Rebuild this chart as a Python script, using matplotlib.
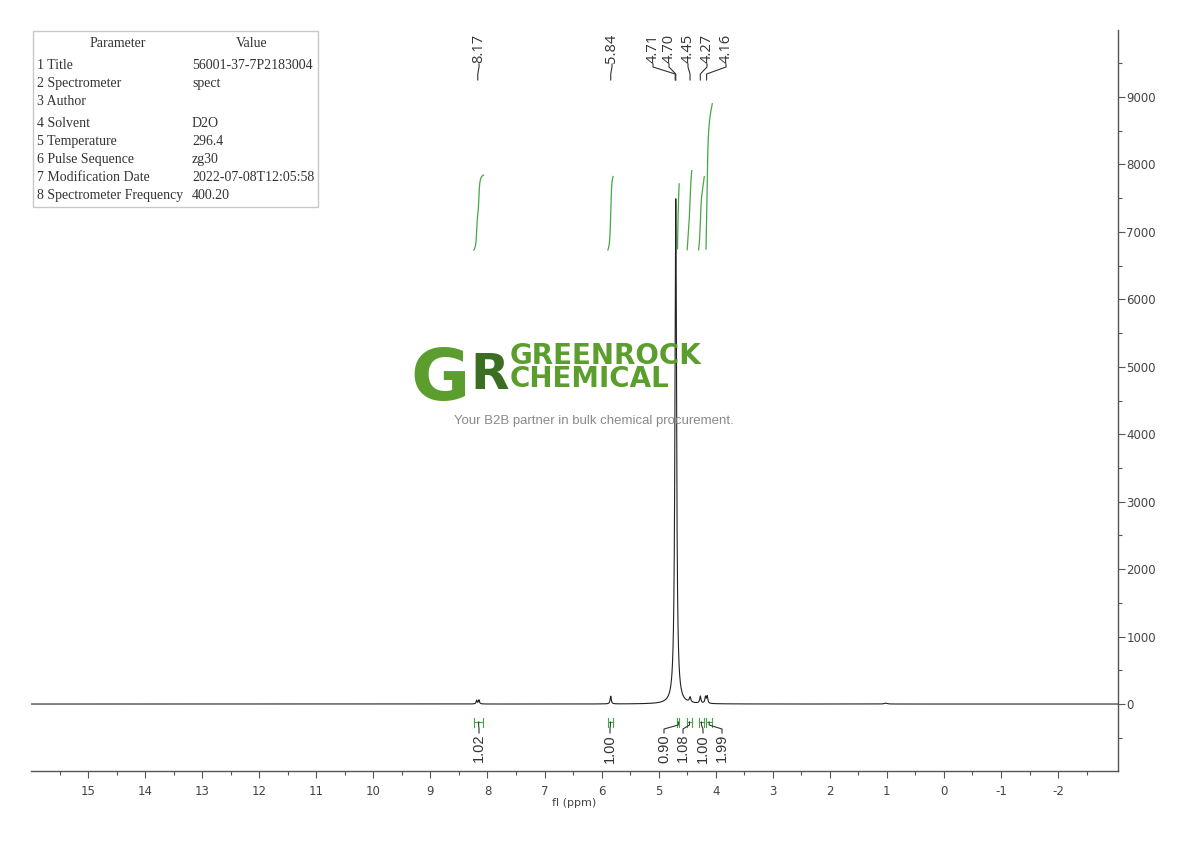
import numpy as np
import matplotlib.pyplot as plt
from matplotlib.patches import Rectangle

plt.rcParams['axes.unicode_minus'] = False

# ---- parameter table ----
param_names = ['1 Title', '2 Spectrometer', '3 Author', '4 Solvent', '5 Temperature',
               '6 Pulse Sequence', '7 Modification Date', '8 Spectrometer Frequency']
param_values = ['56001-37-7P2183004', 'spect', '', 'D2O', '296.4', 'zg30',
                '2022-07-08T12:05:58', '400.20']

# ---- spectrum peaks (ppm, intensity, half width) ----
peak_ppm = [8.19, 8.15, 5.84, 4.71, 4.70, 4.45, 4.27, 4.18, 4.15, 1.02]
peak_height = [55, 60, 115, 300, 7250, 75, 105, 95, 105, 12]
peak_width = [0.011, 0.011, 0.012, 0.02, 0.0167, 0.015, 0.013, 0.012, 0.012, 0.03]

# ---- peak picking labels ----
pick_ppm = [8.17, 5.84, 4.71, 4.70, 4.45, 4.27, 4.16]
pick_label_px = [479, 612, 653, 669, 688, 707, 726]

# ---- integrals ----
int_values = [1.02, 1.00, 0.90, 1.08, 1.00, 1.99]
int_start = [8.24, 5.89, 4.67, 4.50, 4.30, 4.17]
int_end = [8.07, 5.80, 4.64, 4.42, 4.20, 4.06]
int_label_px = [479, 610, 664, 683, 703, 722]

W, H = 1190, 841
fig = plt.figure(figsize=(W / 100, H / 100), dpi=100)
ax = fig.add_axes([31 / W, 1 - 771 / H, (1118 - 31) / W, (771 - 30) / H])

xmin, xmax = 16.0, -3.05
ax.set_xlim(xmin, xmax)
ax.set_ylim(-993, 9994)


def px2ppm(px):
    return xmin - (px - 31) / 1087 * (xmin - xmax)


def yf(py):
    return (771 - py) / 741


def fx(px):
    return px / W


def fy(py):
    return 1 - py / H


# watermark logo (under the spectrum)
green = '#5c9e2e'
dkgreen = '#3b6e22'
fig.text(fx(410), fy(400), 'G', fontsize=52, fontweight='bold', color=green,
         family='DejaVu Sans', zorder=0)
fig.text(fx(470), fy(389), 'R', fontsize=36, fontweight='bold', color=dkgreen,
         family='DejaVu Sans', zorder=0)
fig.text(fx(510), fy(387), 'GREENROCK\nCHEMICAL', fontsize=20, fontweight='bold',
         color=green, family='DejaVu Sans', va='baseline', ha='left',
         linespacing=0.78)
fig.text(fx(594), fy(421), 'Your B2B partner in bulk chemical procurement.',
         fontsize=9.5, color='#8a8a8a', family='Liberation Sans',
         ha='center', va='center')
ax.patch.set_alpha(0)

# spectrum
x = np.linspace(xmin, xmax, 60000)
spec = np.zeros_like(x)
for p, h, w in zip(peak_ppm, peak_height, peak_width):
    spec += h * w ** 2 / (w ** 2 + (x - p) ** 2)
ax.plot(x, spec, color='#222222', lw=0.8, zorder=3)

# integral curves
int_color = '#45a845'
base = (704 - 250) / 0.06744
k = 73.5 / 0.06744
for v, a, b in zip(int_values, int_start, int_end):
    m = (x <= a) & (x >= b)
    c = np.cumsum(spec[m])
    c = c / c[-1]
    ax.plot(x[m], base + v * k * c, color=int_color, lw=0.9, zorder=3)

# integral brackets and labels
tr = ax.get_xaxis_transform()
for v, a, b, lp in zip(int_values, int_start, int_end, int_label_px):
    mid = (a + b) / 2
    ax.plot([a, a], [yf(718), yf(727)], color=int_color, lw=0.8, transform=tr)
    ax.plot([b, b], [yf(718), yf(727)], color=int_color, lw=0.8, transform=tr)
    ax.plot([a, b], [yf(722), yf(722)], color=int_color, lw=0.8, transform=tr)
    lx = px2ppm(lp)
    ax.plot([mid, mid, lx, lx], [yf(722), yf(725), yf(729), yf(733)],
            color='#333333', lw=0.8, transform=tr)
    ax.text(lx, yf(734), f'{v:.2f}', rotation=90, ha='center', va='top',
            fontsize=10.5, color='#333333', family='Liberation Sans', transform=tr)

# peak picking labels
for p, lp in zip(pick_ppm, pick_label_px):
    lx = px2ppm(lp)
    ax.plot([lx, lx, p, p], [yf(64), yf(67), yf(74), yf(80)],
            color='#333333', lw=0.8, transform=tr)
    ax.text(lx, yf(63), f'{p:.2f}', rotation=90, ha='center', va='bottom',
            fontsize=10.5, color='#333333', family='Open Sans', transform=tr)

# axes styling
for s in ['left', 'top']:
    ax.spines[s].set_visible(False)
for s in ['bottom', 'right']:
    ax.spines[s].set_color('#555555')
    ax.spines[s].set_linewidth(1.0)
ax.set_xticks(np.arange(-2, 16, 1))
ax.set_xticks(np.arange(-2.5, 16, 0.5), minor=True)
ax.set_xticklabels([str(t) for t in range(-2, 16)])
ax.set_yticks(np.arange(0, 10000, 1000))
ax.set_yticks(np.arange(-500, 10000, 500), minor=True)
ax.yaxis.tick_right()
ax.tick_params(axis='x', which='major', length=5, width=0.8, color='#555555',
               labelsize=8.5, labelcolor='#444444', pad=5)
ax.tick_params(axis='x', which='minor', length=3, width=0.8, color='#555555')
ax.tick_params(axis='y', which='major', length=5, width=0.8, color='#555555',
               labelsize=8.5, labelcolor='#444444', pad=1)
ax.tick_params(axis='y', which='minor', length=3, width=0.8, color='#555555')
ax.set_xlabel('fl (ppm)', fontsize=8, color='#444444', labelpad=0)

# parameter table
fig.patches.append(Rectangle((fx(33), fy(207)), fx(318) - fx(33), fy(31) - fy(207),
                             transform=fig.transFigure, fill=False,
                             edgecolor='#c8c8c8', lw=1.0))
tf = dict(fontsize=10, color='#333333', family='Liberation Serif', va='baseline')
fig.text(fx(118), fy(47), 'Parameter', ha='center', **tf)
fig.text(fx(252), fy(47), 'Value', ha='center', **tf)
row_y = [65, 83, 101, 123, 141, 159, 177, 195]
for n, v, ry in zip(param_names, param_values, row_y):
    fig.text(fx(37), fy(ry + 4), n, ha='left', **tf)
    fig.text(fx(192), fy(ry + 4), v, ha='left', **tf)

fig.savefig('out.png', dpi=100, facecolor='white')
